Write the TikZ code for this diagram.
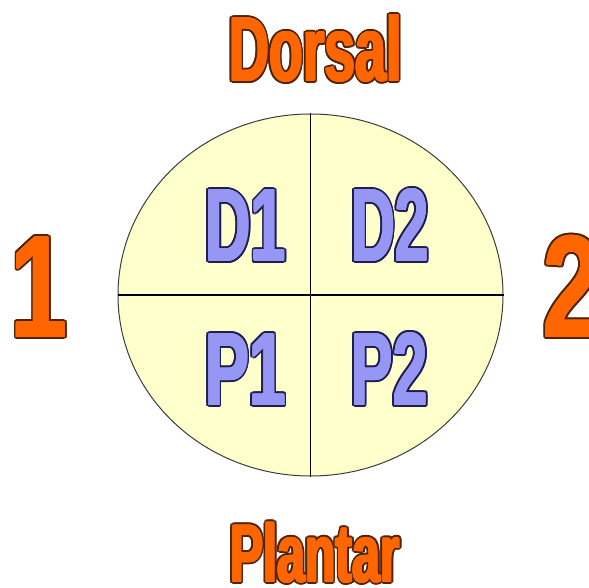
\documentclass[tikz,border=0pt]{standalone}
\usepackage{fontspec}
\setmainfont{Liberation Sans}
\newfontfamily\heavyfont{Liberation Sans Bold}
\usetikzlibrary{shapes.geometric}
\definecolor{orangefill}{RGB}{255,102,0}
\definecolor{orangeline}{RGB}{80,35,10}
\definecolor{bluefill}{RGB}{150,150,245}
\definecolor{blueline}{RGB}{30,30,80}
\definecolor{discfill}{RGB}{255,255,204}
\definecolor{discline}{RGB}{60,60,60}
% #1 name, #2 position, #3 style, #4 fill colour, #5 line colour, #6 text
\newcommand{\olabel}[6]{%
  \foreach \dx/\dy in {2.7/0,-2.7/0,0/2.7,0/-2.7,1.9/1.9,-1.9/1.9,1.9/-1.9,-1.9/-1.9,2.5/1.03,-2.5/1.03,2.5/-1.03,-2.5/-1.03,1.03/2.5,-1.03/2.5,1.03/-2.5,-1.03/-2.5}{%
    \node[#3, text=#5, xshift=\dx pt, yshift=\dy pt] at (#2) {#6};}%
  \foreach \dx/\dy in {0.9/0,-0.9/0,0/0.9,0/-0.9,0.64/0.64,-0.64/0.64,0.64/-0.64,-0.64/-0.64}{%
    \node[#3, text=#4, xshift=\dx pt, yshift=\dy pt] at (#2) {#6};}%
  \node[#3, text=#4] (#1) at (#2) {#6};}
\tikzset{
  label base/.style={inner sep=0pt, anchor=base},
  titletext/.style={label base, font=\heavyfont\fontsize{91}{91}\selectfont\addfontfeatures{FakeStretch=#1}},
  plantartext/.style={label base, font=\heavyfont\fontsize{82}{82}\selectfont\addfontfeatures{FakeStretch=#1}},
  sidetext/.style={label base, font=\heavyfont\fontsize{145}{145}\selectfont\addfontfeatures{FakeStretch=#1}},
  quadtext/.style={label base, font=\heavyfont\fontsize{103}{103}\selectfont\addfontfeatures{FakeStretch=#1}},
  disc/.style={ellipse, draw=discline, line width=1pt, fill=discfill,
    minimum width=385pt, minimum height=362pt, inner sep=0pt},
  divider/.style={draw=black, line width=1.3pt}
}
\begin{document}
\begin{tikzpicture}[x=1pt,y=-1pt]
\useasboundingbox (0,0) rectangle (589,588);
\node[disc] (e) at (310.5,295) {};
\draw[divider] (e.north) -- (e.south);
\draw[divider] (e.west) -- (e.east);
\olabel{dorsal}{315.5,81}{titletext=0.61}{orangefill}{orangeline}{Dorsal}
\olabel{plantar}{315,582}{plantartext=0.61}{orangefill}{orangeline}{Plantar}
\olabel{one}{39,337}{sidetext=0.7}{orangefill}{orangeline}{1}
\olabel{two}{572,337}{sidetext=0.72}{orangefill}{orangeline}{2}
\olabel{d1}{245.5,261}{quadtext=0.61}{bluefill}{blueline}{D1}
\olabel{d2}{390,261}{quadtext=0.59}{bluefill}{blueline}{D2}
\olabel{p1}{245.5,405}{quadtext=0.64}{bluefill}{blueline}{P1}
\olabel{p2}{389.5,405}{quadtext=0.61}{bluefill}{blueline}{P2}
\end{tikzpicture}
\end{document}
